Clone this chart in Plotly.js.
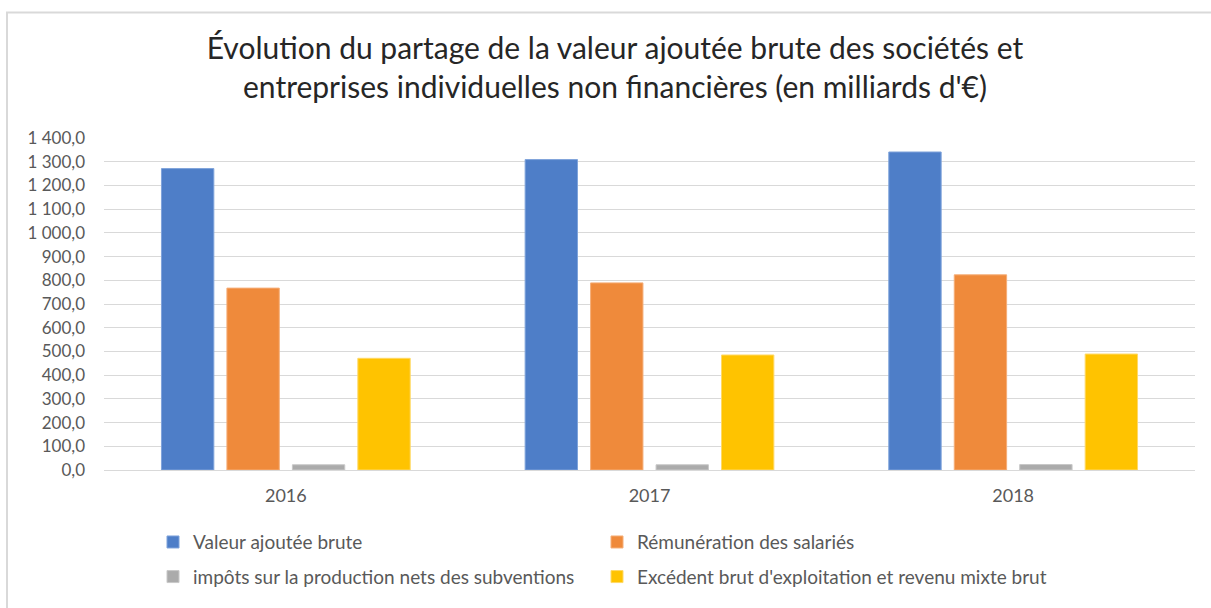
<!DOCTYPE html>
<html>
<head>
<meta charset="utf-8">
<script src="https://cdn.plot.ly/plotly-3.0.1.min.js"></script>
<style>html,body{margin:0;padding:0;background:#fff;}#chart{width:1211px;height:608px;}</style>
</head>
<body>
<div id="chart"></div>
<script>
const years = ["2016", "2017", "2018"];
const seriesNames = [
  "Valeur ajoutée brute",
  "Rémunération des salariés",
  "impôts sur la production nets des subventions",
  "Excédent brut d'exploitation et revenu mixte brut"
];
const valeurAjoutee = [1271, 1309, 1341];
const remuneration = [767, 789, 823];
const impots = [22, 22, 23];
const excedent = [471, 485, 489];
const colors = ["#4E7EC8", "#EF8A3B", "#ABABAB", "#FFC300"];
const lineColors = ["#7FA3DB", "#F5AE78", "#C8C8C8", "#FFD966"];
const tickVals = [0,100,200,300,400,500,600,700,800,900,1000,1100,1200,1300,1400];

const allValues = [valeurAjoutee, remuneration, impots, excedent];
const legendIds = ["legend", "legend2", "legend3", "legend4"];

const traces = allValues.map((vals, i) => ({
  type: "bar",
  x: years,
  y: vals,
  name: seriesNames[i],
  legend: legendIds[i],
  marker: {color: colors[i], line: {color: lineColors[i], width: 1}},
  hoverinfo: "skip"
}));

// plot area: x 104..1195, y 136..473
const L = 104, R = 16, T = 138, B = 134;
const W = 1211 - L - R, H = 608 - T - B;
const px = v => (v - L) / W;
const py = v => (608 - B - v) / H;

const legendFont = {family: "Lato, 'Open Sans', sans-serif", size: 19, color: "#595959"};
const legendPos = [[153, 547], [597, 547], [153, 582], [597, 582]];
function makeLegend(p) {
  return {
    orientation: "h",
    x: px(p[0]), xanchor: "left",
    y: py(p[1]), yanchor: "middle",
    font: legendFont,
    bgcolor: "rgba(0,0,0,0)",
    itemclick: false, itemdoubleclick: false
  };
}

const layout = {
  width: 1211, height: 608,
  margin: {l: L, r: R, t: T, b: B, pad: 0},
  paper_bgcolor: "#ffffff",
  plot_bgcolor: "#ffffff",
  separators: ", ",
  font: {family: "Lato, 'Open Sans', sans-serif", color: "#595959"},
  title: {
    text: "Évolution du partage de la valeur ajoutée brute des sociétés et<br>entreprises individuelles non financières (en milliards d'€)",
    font: {family: "Lato, 'Open Sans', sans-serif", size: 30, color: "#262626"},
    x: 615 / 1211, xref: "container", xanchor: "center",
    y: 1 - 59 / 608, yref: "container", yanchor: "middle"
  },
  bargap: 0.28,
  bargroupgap: 0.2,
  barmode: "group",
  xaxis: {
    type: "category",
    showgrid: false,
    showline: false,
    zeroline: false,
    ticks: "",
    ticklabelstandoff: 13,
    tickfont: {size: 18, color: "#595959"}
  },
  yaxis: {
    range: [0, 1400],
    tickvals: tickVals,
    tickformat: ",.1f",
    showgrid: true,
    gridcolor: "#D9D9D9",
    gridwidth: 1,
    zeroline: true,
    zerolinecolor: "#D9D9D9",
    zerolinewidth: 1,
    showline: false,
    ticks: "",
    ticklabelstandoff: 18,
    tickfont: {size: 17, color: "#595959"}
  },
  showlegend: true,
  legend: makeLegend(legendPos[0]),
  legend2: makeLegend(legendPos[1]),
  legend3: makeLegend(legendPos[2]),
  legend4: makeLegend(legendPos[3]),
  shapes: [
    {type: "line", xref: "paper", yref: "paper", x0: px(7), x1: px(7), y0: py(11), y1: py(620),
     line: {color: "#D9D9D9", width: 2}},
    {type: "line", xref: "paper", yref: "paper", x0: px(6), x1: px(1220), y0: py(11), y1: py(11),
     line: {color: "#D9D9D9", width: 2}}
  ]
};

Plotly.newPlot("chart", traces, layout, {displayModeBar: false, staticPlot: true});
</script>
</body>
</html>
